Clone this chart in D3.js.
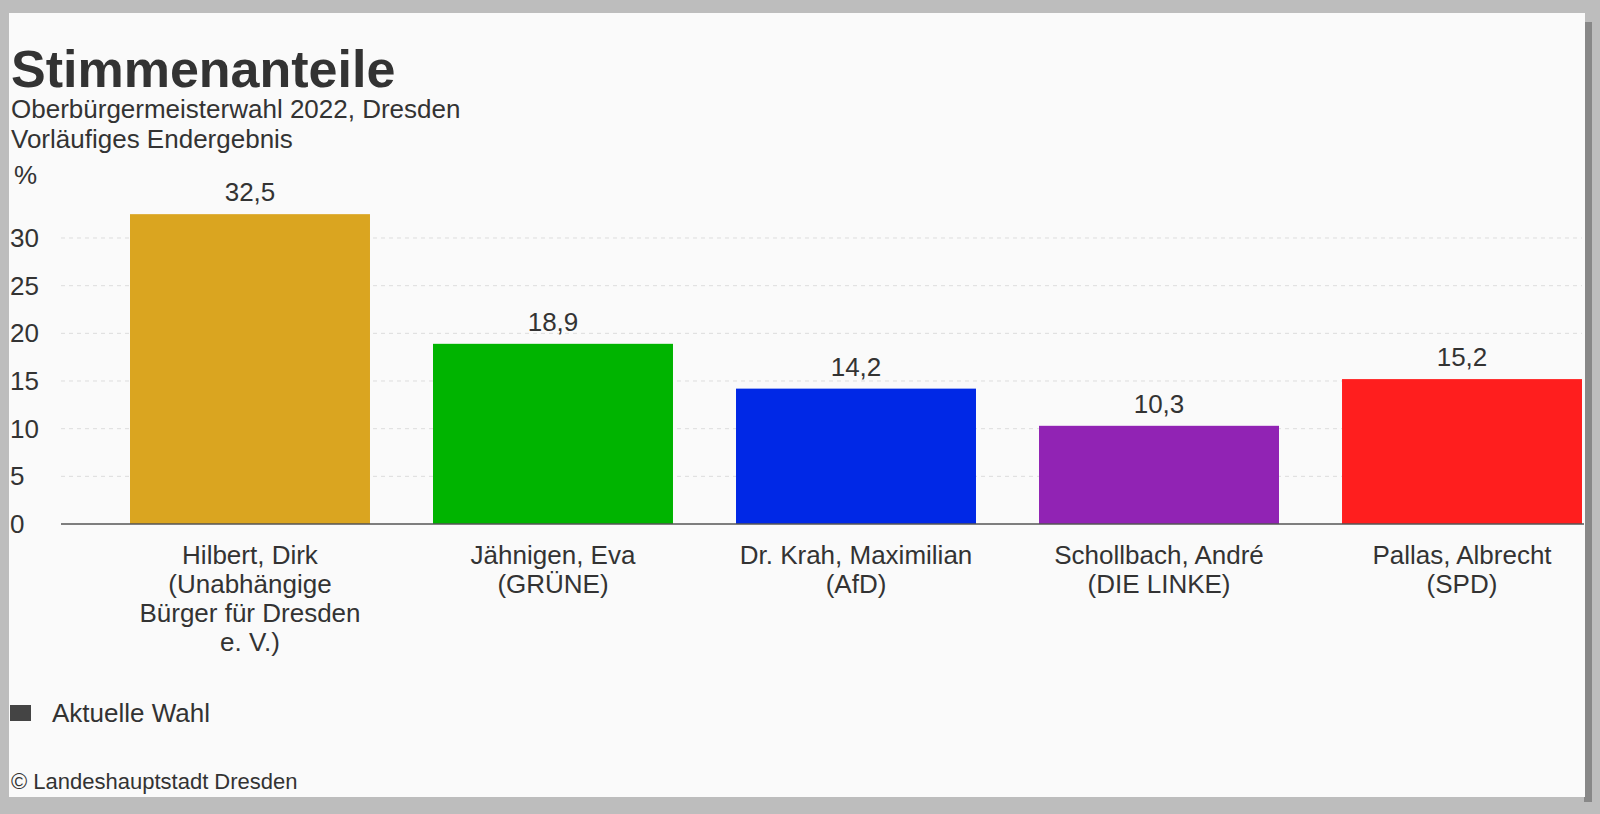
<!DOCTYPE html>
<html><head><meta charset="utf-8">
<script src="https://cdn.jsdelivr.net/npm/d3@7"></script>
<style>body{margin:0;background:#bdbdbd;overflow:hidden}svg{display:block;font-family:Arial,"Liberation Sans",sans-serif}</style>
</head><body><svg id="c" width="1600" height="814"></svg>
<script>
const categories=[["Hilbert, Dirk","(Unabhängige","Bürger für Dresden","e. V.)"],["Jähnigen, Eva","(GRÜNE)"],["Dr. Krah, Maximilian","(AfD)"],["Schollbach, André","(DIE LINKE)"],["Pallas, Albrecht","(SPD)"]];
const values=[32.5,18.9,14.2,10.3,15.2];
const labels=["32,5","18,9","14,2","10,3","15,2"];
const colors=["#daa520","#00b400","#0028e6","#9123b4","#ff1e1e"];
const ticks=[0,5,10,15,20,25,30];

const svg=d3.select("#c");
svg.append("rect").attr("x",0).attr("y",0).attr("width",1600).attr("height",814).attr("fill","#bdbdbd");
svg.append("rect").attr("x",1584).attr("y",22).attr("width",8).attr("height",780).attr("fill","#888");
svg.append("rect").attr("x",9).attr("y",13).attr("width",1576).attr("height",784).attr("fill","#fafafa");

const y=d3.scaleLinear().domain([0,30]).range([524,238]);
const x=d3.scaleBand().domain(d3.range(5)).range([130,1582]).paddingInner(0.208).paddingOuter(0);
const fs=26;

ticks.forEach(t=>{
  if(t>0) svg.append("line").attr("x1",61).attr("x2",1582).attr("y1",y(t)).attr("y2",y(t))
    .attr("stroke","#ddd").attr("stroke-dasharray","4,4");
  svg.append("text").attr("x",10).attr("y",y(t)+9).attr("font-size",fs).attr("fill","#333").text(t);
});
svg.append("text").attr("x",14).attr("y",184).attr("font-size",fs).attr("fill","#333").text("%");

svg.selectAll(".bar").data(values).join("rect")
  .attr("x",(d,i)=>x(i)).attr("width",x.bandwidth())
  .attr("y",d=>y(d)).attr("height",d=>y(0)-y(d)).attr("fill",(d,i)=>colors[i]);
svg.selectAll(".vl").data(values).join("text")
  .attr("x",(d,i)=>x(i)+x.bandwidth()/2).attr("y",d=>y(d)-13)
  .attr("text-anchor","middle").attr("font-size",fs).attr("fill","#333").text((d,i)=>labels[i]);
svg.append("line").attr("x1",61).attr("x2",1584).attr("y1",524).attr("y2",524).attr("stroke","#555").attr("stroke-width",1.5);

categories.forEach((lines,i)=>{
  const t=svg.append("text").attr("text-anchor","middle").attr("font-size",fs).attr("fill","#333");
  lines.forEach((l,j)=>t.append("tspan").attr("x",x(i)+x.bandwidth()/2).attr("y",564+j*29).text(l));
});

svg.append("text").attr("x",11).attr("y",87).attr("font-size",52).attr("font-weight","bold").attr("fill","#333").text("Stimmenanteile");
svg.append("text").attr("x",11).attr("y",118).attr("font-size",fs).attr("fill","#333").text("Oberbürgermeisterwahl 2022, Dresden");
svg.append("text").attr("x",11).attr("y",148).attr("font-size",fs).attr("fill","#333").text("Vorläufiges Endergebnis");

svg.append("rect").attr("x",10).attr("y",705).attr("width",21).attr("height",16).attr("fill","#444");
svg.append("text").attr("x",52).attr("y",722).attr("font-size",fs).attr("fill","#333").text("Aktuelle Wahl");
svg.append("text").attr("x",11).attr("y",789).attr("font-size",22).attr("fill","#333").text("© Landeshauptstadt Dresden");
</script></body></html>
